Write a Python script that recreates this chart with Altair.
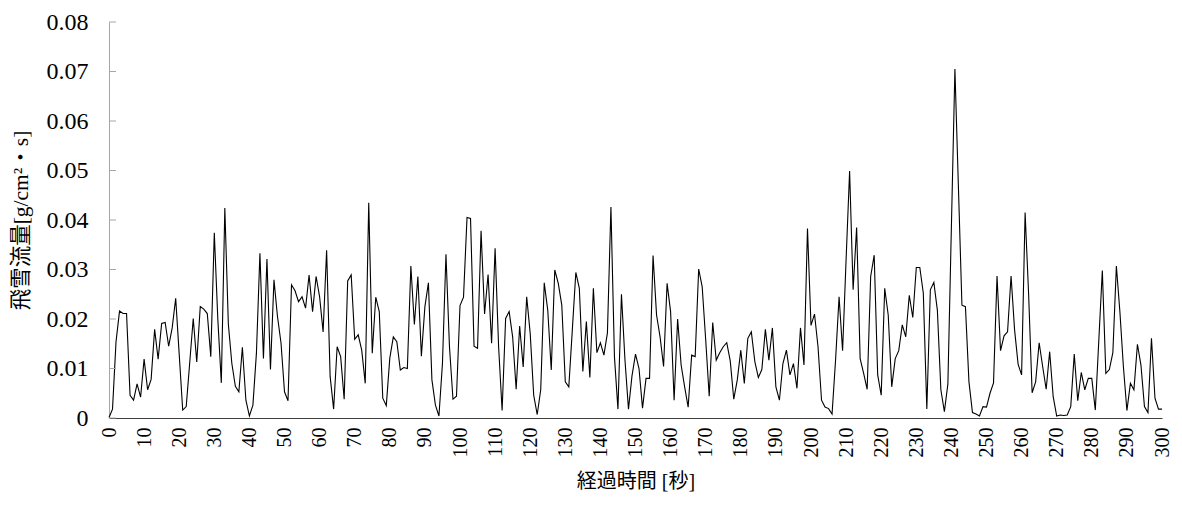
import altair as alt
import pandas as pd

# 飛雪流量 [g/cm²・s], one value per second (0..300 s)
flux = [
    0.0001, 0.0018, 0.0154, 0.0216, 0.0211, 0.0211, 0.0046, 0.0036, 0.0069, 0.0042,
    0.0119, 0.0057, 0.0078, 0.0179, 0.0119, 0.0191, 0.0193, 0.0145, 0.0182, 0.0242,
    0.0129, 0.0016, 0.0023, 0.0112, 0.0201, 0.0113, 0.0225, 0.0220, 0.0211, 0.0124,
    0.0374, 0.0200, 0.0071, 0.0424, 0.0190, 0.0110, 0.0064, 0.0053, 0.0143, 0.0036,
    0.0004, 0.0026, 0.0131, 0.0333, 0.0120, 0.0321, 0.0098, 0.0279, 0.0205, 0.0152,
    0.0053, 0.0035, 0.0269, 0.0257, 0.0235, 0.0245, 0.0222, 0.0289, 0.0215, 0.0286,
    0.0245, 0.0174, 0.0339, 0.0084, 0.0018, 0.0144, 0.0124, 0.0038, 0.0277, 0.0289,
    0.0159, 0.0168, 0.0137, 0.0070, 0.0435, 0.0131, 0.0244, 0.0215, 0.0040, 0.0025,
    0.0121, 0.0164, 0.0154, 0.0097, 0.0102, 0.0100, 0.0307, 0.0189, 0.0286, 0.0125,
    0.0225, 0.0273, 0.0077, 0.0026, 0.0004, 0.0110, 0.0331, 0.0144, 0.0038, 0.0044,
    0.0227, 0.0244, 0.0405, 0.0403, 0.0145, 0.0141, 0.0378, 0.0210, 0.0290, 0.0151,
    0.0343, 0.0144, 0.0015, 0.0201, 0.0215, 0.0164, 0.0058, 0.0186, 0.0103, 0.0245,
    0.0171, 0.0046, 0.0007, 0.0057, 0.0273, 0.0218, 0.0097, 0.0299, 0.0272, 0.0228,
    0.0073, 0.0063, 0.0178, 0.0294, 0.0262, 0.0094, 0.0195, 0.0082, 0.0262, 0.0132,
    0.0152, 0.0127, 0.0172, 0.0426, 0.0124, 0.0018, 0.0250, 0.0117, 0.0018, 0.0085,
    0.0129, 0.0100, 0.0020, 0.0080, 0.0080, 0.0328, 0.0208, 0.0164, 0.0104, 0.0272,
    0.0215, 0.0036, 0.0200, 0.0107, 0.0063, 0.0022, 0.0127, 0.0124, 0.0301, 0.0265,
    0.0158, 0.0044, 0.0193, 0.0117, 0.0132, 0.0144, 0.0152, 0.0115, 0.0038, 0.0077,
    0.0137, 0.0070, 0.0161, 0.0174, 0.0114, 0.0082, 0.0098, 0.0179, 0.0117, 0.0182,
    0.0063, 0.0036, 0.0110, 0.0137, 0.0087, 0.0110, 0.0060, 0.0182, 0.0107, 0.0383,
    0.0187, 0.0210, 0.0144, 0.0036, 0.0022, 0.0019, 0.0008, 0.0117, 0.0245, 0.0136,
    0.0320, 0.0499, 0.0259, 0.0385, 0.0120, 0.0090, 0.0058, 0.0286, 0.0329, 0.0087,
    0.0046, 0.0262, 0.0208, 0.0063, 0.0120, 0.0136, 0.0188, 0.0164, 0.0248, 0.0203,
    0.0304, 0.0304, 0.0252, 0.0018, 0.0259, 0.0274, 0.0218, 0.0057, 0.0013, 0.0069,
    0.0387, 0.0705, 0.0466, 0.0228, 0.0225, 0.0073, 0.0011, 0.0008, 0.0004, 0.0023,
    0.0022, 0.0050, 0.0071, 0.0287, 0.0136, 0.0166, 0.0174, 0.0287, 0.0178, 0.0109,
    0.0087, 0.0415, 0.0250, 0.0051, 0.0073, 0.0152, 0.0104, 0.0058, 0.0134, 0.0043,
    0.0004, 0.0006, 0.0005, 0.0006, 0.0023, 0.0129, 0.0035, 0.0092, 0.0057, 0.0080,
    0.0080, 0.0016, 0.0157, 0.0298, 0.0090, 0.0098, 0.0132, 0.0307, 0.0215, 0.0104,
    0.0015, 0.0070, 0.0057, 0.0149, 0.0107, 0.0023, 0.0011, 0.0161, 0.0040, 0.0018,
    0.0018,
]
seconds = list(range(len(flux)))

x_tick_values = list(range(0, 301, 10))
y_tick_values = [0, 0.01, 0.02, 0.03, 0.04, 0.05, 0.06, 0.07, 0.08]

x_title = "経過時間 [秒]"
y_title = "飛雪流量[g/cm²・s]"

FONT = "'Liberation Serif', 'Times New Roman', 'Noto Sans CJK JP', serif"

df = pd.DataFrame({"t": seconds, "v": flux})
ticks_df = pd.DataFrame({"v": y_tick_values})

y_scale = alt.Scale(domain=[0, 0.08], nice=False, zero=True)

y_axis = alt.Axis(
    values=y_tick_values,
    ticks=False,
    grid=False,
    domainColor="#a6a6a6",
    domainWidth=1,
    labelExpr="datum.value == 0 ? '0' : format(datum.value, '.2f')",
    labelFont=FONT,
    labelFontSize=24,
    labelColor="#000000",
    labelPadding=21,
    labelFlush=False,
    title=y_title,
    titleFont=FONT,
    titleFontSize=21.5,
    titleFontWeight="normal",
    titleColor="#000000",
    titlePadding=14,
)

line = alt.Chart(df).mark_line(color="#000000", strokeWidth=1.1).encode(
    x=alt.X(
        "t:Q",
        scale=alt.Scale(domain=[0, 300], nice=False),
        axis=alt.Axis(
            values=x_tick_values,
            labelAngle=270,
            ticks=False,
            grid=False,
            domainColor="#404040",
            domainWidth=1,
            labelFont=FONT,
            labelFontSize=20,
            labelColor="#000000",
            labelPadding=9,
            labelOverlap=False,
            labelFlush=False,
            title=x_title,
            titleFont=FONT,
            titleFontSize=20,
            titleFontWeight="normal",
            titleColor="#000000",
            titlePadding=14,
        ),
    ),
    y=alt.Y("v:Q", scale=y_scale, axis=y_axis),
)

inner_ticks = alt.Chart(ticks_df).mark_rule(color="#a6a6a6", strokeWidth=1).encode(
    y=alt.Y("v:Q", scale=y_scale, axis=y_axis),
    x=alt.value(0),
    x2=alt.value(7),
)

chart = (
    alt.layer(line, inner_ticks)
    .properties(
        width=1053,
        height=396,
        autosize=alt.AutoSizeParams(type="none"),
        padding={"left": 101, "top": 14, "right": 11, "bottom": 90},
        background="#ffffff",
    )
    .configure_view(stroke=None)
)

chart.save("out.html", embed_options={"renderer": "svg", "actions": False})
